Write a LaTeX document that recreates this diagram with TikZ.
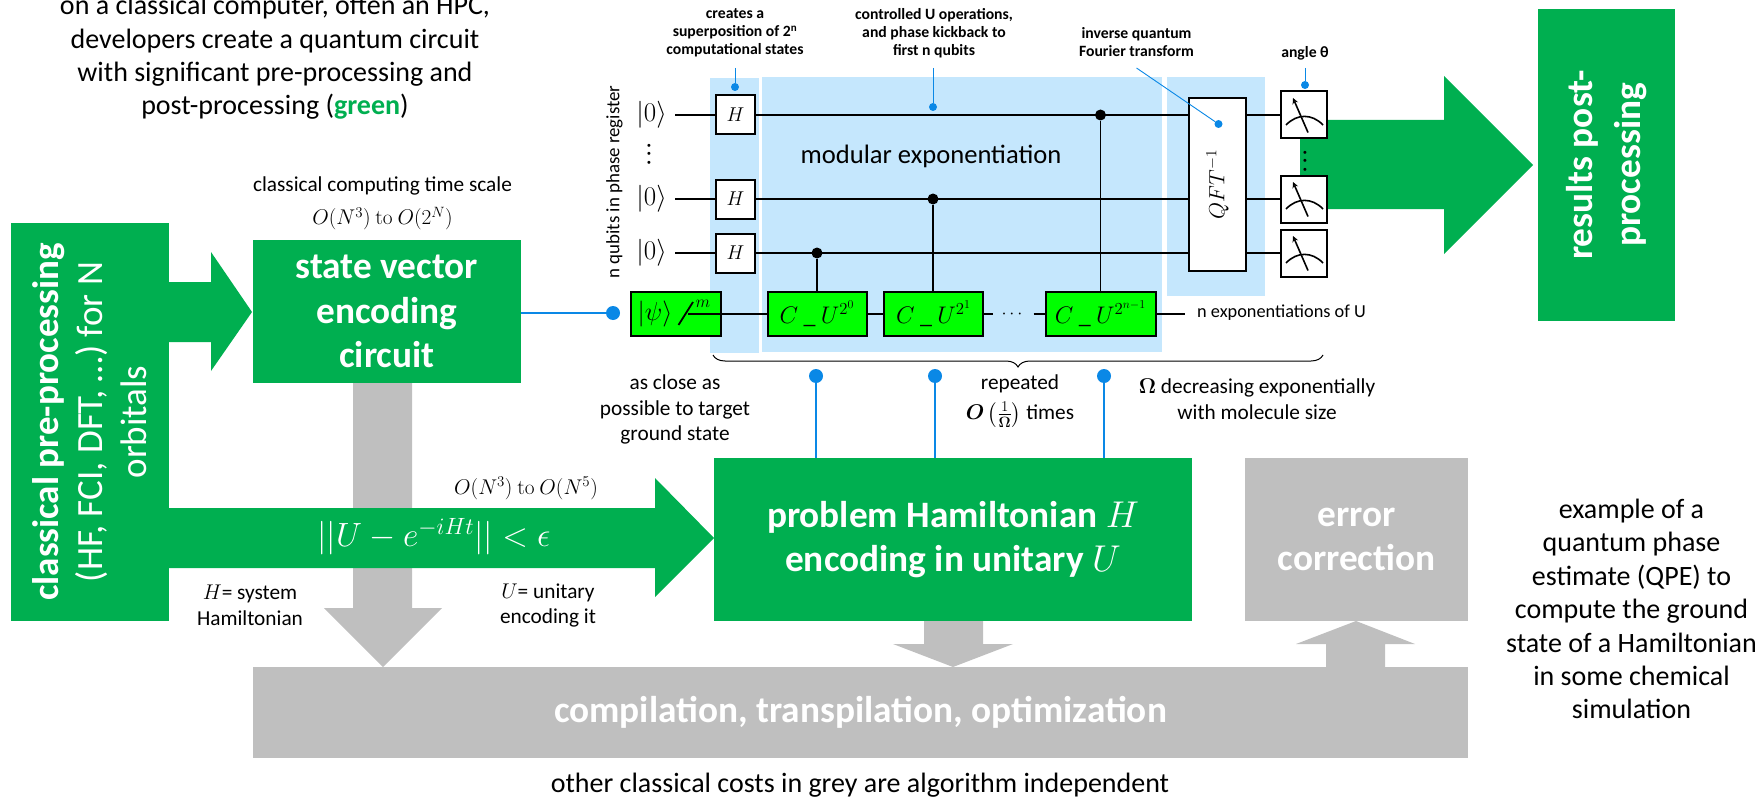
\documentclass[tikz,border=0pt]{standalone}
\usepackage{fix-cm}
\usepackage{amsmath}
\usepackage[no-math]{fontspec}
\setmainfont{Carlito}
\usetikzlibrary{decorations.pathreplacing}
\definecolor{BlockGreen}{HTML}{00AF50}
\definecolor{BlockGrey}{HTML}{BFBFBF}
\definecolor{PanelBlue}{HTML}{C5E7FD}
\definecolor{PinBlue}{HTML}{0A88E6}
\definecolor{GateLime}{HTML}{00FF00}
\tikzset{
  greenbox/.style={rectangle, fill=BlockGreen, text=white, inner sep=0, align=center, font=\fontsize{37.3}{44.5}\selectfont\bfseries},
  greybox/.style={rectangle, fill=BlockGrey, text=white, inner sep=0, align=center, font=\fontsize{37.3}{44.5}\selectfont\bfseries},
  panel/.style={rectangle, fill=PanelBlue, inner sep=0},
  gate/.style={rectangle, draw, line width=2, fill=white, inner sep=0, font=\fontsize{20}{24}\selectfont},
  ugate/.style={gate, fill=GateLime, minimum height=44, font=\fontsize{24}{24}\selectfont},
  wire/.style={line width=1.5},
  ctrl/.style={circle, fill=black, inner sep=0, minimum size=11},
  pin/.style={circle, fill=PinBlue, inner sep=0, minimum size=14},
  smallpin/.style={circle, fill=PinBlue, inner sep=0, minimum size=8},
  pinline/.style={draw=PinBlue, line width=1.6},
  thinpin/.style={draw=PinBlue, line width=0.9},
  bignote/.style={align=center, font=\fontsize{28}{33.4}\selectfont},
  midnote/.style={align=center, font=\fontsize{21.3}{25.5}\selectfont},
  tinynote/.style={align=center, font=\fontsize{15.7}{18}\selectfont\bfseries},
  ket/.style={anchor=east, inner xsep=8, inner ysep=2, font=\fontsize{27}{27}\selectfont},
  updots/.style={rotate=90, inner sep=0, font=\fontsize{20}{20}\selectfont\bfseries},
  meter/.pic={
    \draw[line width=1.6] (-18,10) .. controls (-7,-1.5) and (8,-1.5) .. (19,10);
    \draw[line width=1.6, -stealth] (4,17.5) -- (-11,-17);
  }
}
\begin{document}
\begin{tikzpicture}[x=1pt, y=-1pt]
  \useasboundingbox (0,0) rectangle (1761,797);

  \fill[BlockGrey] (353,383) -- (412,383) -- (412,608) -- (442,608) -- (383,667) -- (324,608) -- (353,608) -- cycle;
  \fill[BlockGrey] (924,621) -- (983,621) -- (983,644) -- (1013,644) -- (953,667) -- (893,644) -- (924,644) -- cycle;
  \fill[BlockGrey] (1326,667) -- (1326,644) -- (1296,644) -- (1356,621) -- (1415,644) -- (1385,644) -- (1385,667) -- cycle;
  \fill[BlockGreen] (169,282) -- (211,282) -- (211,252) -- (252,312) -- (211,371) -- (211,342) -- (169,342) -- cycle;
  \fill[BlockGreen] (169,508) -- (655,508) -- (655,478) -- (714,538) -- (655,597) -- (655,568) -- (169,568) -- cycle;
  \fill[BlockGreen] (1300,120) -- (1444,120) -- (1444,76) -- (1533,165) -- (1444,254) -- (1444,209) -- (1300,209) -- cycle;

  \node (Pre) [greenbox, rotate=90, minimum width=398, minimum height=158, font=\fontsize{37}{44}\selectfont] at (90,422) {
    \textbf{classical pre-processing} \\
    (HF, FCI, DFT, \dots) for N \\
    orbitals
  };
  \node (State) [greenbox, minimum width=268, minimum height=143] at (387,311.5) {
    state vector \\
    encoding \\
    circuit
  };
  \node (Problem) [greenbox, minimum width=478, minimum height=163] at (953,539.5) {
    problem Hamiltonian $H$ \\
    encoding in unitary $U$
  };
  \node (Error) [greybox, minimum width=223, minimum height=163] at (1356.5,539.5) {
    error \\
    correction
  };
  \node (Bar) [greybox, minimum width=1215, minimum height=91] at (860.5,712.5) {\raisebox{-3pt}{compilation, transpilation, optimization}};
  \node (Results) [greenbox, rotate=90, minimum width=312, minimum height=137, font=\fontsize{37.3}{48}\selectfont\bfseries] at (1606.5,165) {
    results post- \\
    processing
  };

  \node (Intro) [bignote] at (275,57.5) {
    on a classical computer, often an HPC, \\
    developers create a quantum circuit \\
    with significant pre-processing and \\
    post-processing (\textcolor{BlockGreen}{\textbf{green}})
  };
  \node (Scale) [midnote] at (382.5,203.5) {
    classical computing time scale \\[7.5pt]
    $O(N^3)\ \mathrm{to}\ O(2^N)$
  };
  \node (Bound) [midnote] at (526,488) {$O(N^3)\ \mathrm{to}\ O(N^5)$};
  \node (Norm) [text=white, font=\fontsize{33.6}{36}\selectfont] at (434,537) {$||U-e^{-iHt}||<\epsilon$};
  \node (Hnote) [midnote] at (250,605.5) {
    $H$= system \\
    Hamiltonian
  };
  \node (Unote) [midnote] at (548,605.5) {
    $U$= unitary \\
    encoding it
  };
  \node (Bottom) [bignote] at (860,785) {other classical costs in grey are algorithm independent};
  \node (Example) [bignote] at (1631.5,609) {
    example of a \\
    quantum phase \\
    estimate (QPE) to \\
    compute the ground \\
    state of a Hamiltonian \\
    in some chemical \\
    simulation
  };

  \node (PanelH) [panel, minimum width=49, minimum height=275] at (734.5,215.5) {};
  \node (PanelMod) [panel, minimum width=400, minimum height=275] at (962,214.5) {};
  \node (PanelQft) [panel, minimum width=98, minimum height=219] at (1216,186.5) {};

  \node (Creates) [tinynote] at (735,33) {
    creates a \\
    superposition of 2\textsuperscript{n} \\
    computational states
  };
  \node (Controlled) [tinynote] at (934,33) {
    controlled U operations, \\
    and phase kickback to \\
    first n qubits
  };
  \node (Inverse) [tinynote] at (1136.5,42) {
    inverse quantum \\
    Fourier transform
  };
  \node (Angle) [tinynote] at (1305,53) {angle θ};
  \node (Modular) [font=\fontsize{26.6}{30}\selectfont] at (931,156) {modular exponentiation};
  \node (Register) [rotate=90, font=\fontsize{18.9}{20}\selectfont] at (614.5,182) {n qubits in phase register};

  \node (K1) [ket] at (675,115) {$|0\rangle$};
  \node (K2) [ket] at (675,199) {$|0\rangle$};
  \node (K3) [ket] at (675,253) {$|0\rangle$};
  \node (KDots) [updots] at (649,154) {.\,.\,.};

  \node (H1) [gate, minimum width=39, minimum height=39] at (735.5,115) {$H$};
  \node (H2) [gate, minimum width=39, minimum height=39] at (735.5,199) {$H$};
  \node (H3) [gate, minimum width=39, minimum height=39] at (735.5,253) {$H$};
  \node (Qft) [gate, minimum width=173, minimum height=57, rotate=90, font=\fontsize{22}{24}\selectfont] at (1217.5,184.5) {$QFT^{-1}$};
  \node (M1) [gate, minimum width=46, minimum height=47] at (1304,115) {};
  \node (M2) [gate, minimum width=46, minimum height=47] at (1304,199) {};
  \node (M3) [gate, minimum width=46, minimum height=47] at (1304,253) {};
  \node (MDots) [updots] at (1305,161) {.\,.\,.};

  \node (Psi) [ugate, fill=GateLime, minimum width=90] at (675.8,314) {};
  \node (U1) [ugate, minimum width=99] at (817,314) {\raisebox{-3pt}{$C\ \_\ U^{2^0}$}};
  \node (U2) [ugate, minimum width=99] at (933.5,314) {\raisebox{-3pt}{$C\ \_\ U^{2^1}$}};
  \node (U3) [ugate, minimum width=110] at (1100.5,314) {\raisebox{-3pt}{$C\ \_\ U^{2^{n-1}}$}};
  \node (UDots) [minimum width=40, inner sep=0, font=\fontsize{18}{18}\selectfont] at (1013.5,314) {$\cdots$};
  \node (PsiKet) [inner sep=0, font=\fontsize{26}{26}\selectfont] at (655,314) {$|\psi\rangle$};
  \node (PsiM) [inner sep=0, font=\fontsize{17}{17}\selectfont] at (703,304) {$m$};
  \coordinate (PsiIn) at (688,314);
  \coordinate (UEnd) at (1185,314);
  \node (Exps) [midnote, font=\fontsize{18.3}{20}\selectfont, anchor=west, inner sep=0] at (1197,313) {n exponentiations of U};

  \node (C1) [ctrl] at (817,253) {};
  \node (C2) [ctrl] at (933,199) {};
  \node (C3) [ctrl] at (1100.5,115) {};

  \draw[wire] (K1) to (H1);
  \draw[wire] (K2) to (H2);
  \draw[wire] (K3) to (H3);
  \draw[wire] (H1) to (H1 -| Qft.north);
  \draw[wire] (H2) to (H2 -| Qft.north);
  \draw[wire] (H3) to (H3 -| Qft.north);
  \draw[wire] (H1 -| Qft.south) to (M1);
  \draw[wire] (H2 -| Qft.south) to (M2);
  \draw[wire] (H3 -| Qft.south) to (M3);
  \draw[wire] (C1) to (C1 |- U1.north);
  \draw[wire] (C2) to (C2 |- U2.north);
  \draw[wire] (C3) to (C3 |- U3.north);
  \draw[wire] (PsiIn) to (U1);
  \draw[wire] (U1) to (U2);
  \draw[wire] (U2) to (UDots);
  \draw[wire] (UDots) to (U3);
  \draw[wire] (U3) to (UEnd);
  \draw[wire, line width=1.8] (678.5,325) to (693,302);

  \pic at (M1) {meter};
  \pic at (M2) {meter};
  \pic at (M3) {meter};

  \node (DPsi) [pin] at (613,313) {};
  \node (DCreates) [smallpin] at (735,87) {};
  \node (DControlled) [smallpin] at (933,107) {};
  \node (DInverse) [smallpin] at (1218.5,124) {};
  \node (DAngle) [smallpin] at (1305,85) {};
  \node (DP1) [pin] at (816,376) {};
  \node (DP2) [pin] at (935,376) {};
  \node (DP3) [pin] at (1104,376) {};
  \coordinate (TCreates) at (735,68);
  \coordinate (TControlled) at (933,68);
  \coordinate (TInverse) at (1136.5,68);
  \coordinate (TAngle) at (1305,68);

  \draw[pinline] (DPsi -| State.east) to (DPsi);
  \draw[thinpin] (TCreates) to (DCreates);
  \draw[thinpin] (TControlled) to (DControlled);
  \draw[thinpin] (TInverse) to (DInverse);
  \draw[thinpin] (TAngle) to (DAngle);
  \draw[pinline] (DP1) to (DP1 |- Problem.north);
  \draw[pinline] (DP2) to (DP2 |- Problem.north);
  \draw[pinline] (DP3) to (DP3 |- Problem.north);

  \coordinate (BraceL) at (713,355);
  \coordinate (BraceR) at (1323,355);
  \draw[line width=1, decorate, decoration={brace, amplitude=12, mirror}] (BraceL) to (BraceR);

  \node (Close) [midnote] at (675,409.5) {
    as close as \\
    possible to target \\
    ground state
  };
  \node (Repeated) [midnote] at (1020,401) {
    repeated \\[5pt]
    $\boldsymbol{O}\left(\frac{1}{\mathbf{\Omega}}\right)$ times
  };
  \node (Omega) [midnote] at (1257,399) {
    $\mathbf{\Omega}$ decreasing exponentially \\
    with molecule size
  };
\end{tikzpicture}
\end{document}
